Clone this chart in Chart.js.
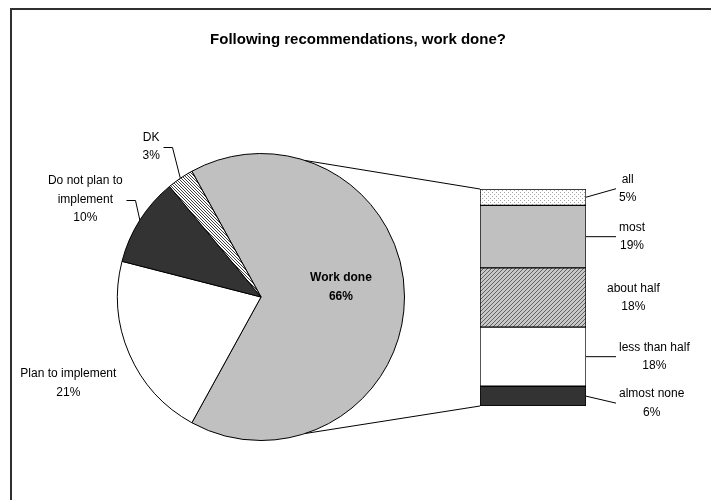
<!DOCTYPE html>
<html>
<head>
<meta charset="utf-8">
<script src="https://cdn.jsdelivr.net/npm/chart.js@4.4.1/dist/chart.umd.min.js"></script>
<style>
html, body { margin: 0; padding: 0; background: #fff; }
#wrap { position: relative; width: 711px; height: 500px; overflow: hidden; background: #fff; }
#frame { position: absolute; left: 10px; top: 8px; width: 760px; height: 560px; border-left: 2px solid #303030; border-top: 2px solid #303030; }
canvas { position: absolute; left: 0; top: 0; }
</style>
</head>
<body>
<div id="wrap">
  <div id="frame"></div>
  <canvas id="pie" width="711" height="500"></canvas>
  <canvas id="bar" width="711" height="500"></canvas>
</div>
<script>
// data
const chartTitle = "Following recommendations, work done?";
const pieLabels = [["Work done"], ["Plan to implement"], ["Do not plan to", "implement"], ["DK"]];
const pieValues = [66, 21, 10, 3];
// bar segments, bottom to top
const barLabels = [["almost none"], ["less than half"], ["about half"], ["most"], ["all"]];
const barValues = [6, 18, 18, 19, 5];

const FONT = '"Liberation Sans", Arial, sans-serif';
const LINE = 18.5;

function makePattern(bg, fg, size, px) {
    const c = document.createElement("canvas");
    c.width = size;
    c.height = size;
    const g = c.getContext("2d");
    g.fillStyle = bg;
    g.fillRect(0, 0, size, size);
    g.fillStyle = fg;
    px.forEach(p => g.fillRect(p[0], p[1], 1, 1));
    return g.createPattern(c, "repeat");
}
const hatchDown = makePattern("#ffffff", "#404040", 3, [[0, 0], [1, 1], [2, 2]]);
const hatchUp = makePattern("#c8c8c8", "#606060", 4, [[3, 0], [2, 1], [1, 2], [0, 3]]);
const dotted = makePattern("#ffffff", "#a8a8a8", 4, [[0, 0], [2, 2]]);

const pieFills = ["#c0c0c0", "#ffffff", "#333333", hatchDown];
const barFills = ["#333333", "#ffffff", hatchUp, "#c0c0c0", dotted];

// label placement: distance along the slice mid-angle (in radii) plus a nudge
const pieLabelLayout = [
    {dist: 0.557, dx: 0, dy: -10, bold: true, leader: false},
    {dist: 1.463, dx: 0, dy: 3, bold: false, leader: false},
    {dist: 1.45, dx: 0, dy: 14, bold: false, leader: true},
    {dist: 1.3, dx: -5, dy: 4, bold: false, leader: true}
];
const barLabelLayout = [
    {gap: 33, dy: 7, leader: true},
    {gap: 33, dy: 0, leader: true},
    {gap: 21, dy: 0, leader: false},
    {gap: 33, dy: 0, leader: true},
    {gap: 33, dy: -8.5, leader: true}
];

function drawBlock(ctx, lines, cx, cy) {
    const h = LINE * (lines.length - 1);
    lines.forEach((t, k) => ctx.fillText(t, cx, cy - h / 2 + k * LINE));
}

const titlePlugin = {
    id: "titleText",
    afterDraw(chart) {
        const ctx = chart.ctx;
        ctx.save();
        ctx.font = "bold 15px " + FONT;
        ctx.textAlign = "center";
        ctx.textBaseline = "middle";
        ctx.fillStyle = "#000";
        ctx.fillText(chartTitle, 358, 40);
        ctx.restore();
    }
};

const pieLabelPlugin = {
    id: "pieLabels",
    afterDatasetsDraw(chart) {
        const ctx = chart.ctx;
        const arcs = chart.getDatasetMeta(0).data;
        ctx.save();
        ctx.fillStyle = "#000";
        ctx.strokeStyle = "#000";
        ctx.lineWidth = 1;
        ctx.textAlign = "center";
        ctx.textBaseline = "middle";
        arcs.forEach((arc, i) => {
            const mid = (arc.startAngle + arc.endAngle) / 2;
            const r = arc.outerRadius;
            const lay = pieLabelLayout[i];
            const lines = pieLabels[i].concat([pieValues[i] + "%"]);
            ctx.font = (lay.bold ? "bold " : "") + "12px " + FONT;
            const lx = arc.x + Math.cos(mid) * r * lay.dist + lay.dx;
            const ly = arc.y + Math.sin(mid) * r * lay.dist + lay.dy;
            drawBlock(ctx, lines, lx, ly);
            if (lay.leader) {
                const w = Math.max(...lines.map(t => ctx.measureText(t).width));
                const sx = Math.round(lx + w / 2 + 3) + 0.5;
                const sy = Math.round(ly) + 0.5;
                ctx.beginPath();
                ctx.moveTo(sx, sy);
                ctx.lineTo(sx + 9, sy);
                ctx.lineTo(arc.x + Math.cos(mid) * r, arc.y + Math.sin(mid) * r);
                ctx.stroke();
            }
        });
        ctx.restore();
    }
};

const total = pieValues.reduce((a, b) => a + b, 0);

const pieChart = new Chart(document.getElementById("pie"), {
    type: "pie",
    data: {
        labels: pieLabels,
        datasets: [{
            data: pieValues,
            backgroundColor: pieFills,
            borderColor: "#000",
            borderWidth: 1,
            hoverOffset: 0
        }]
    },
    options: {
        responsive: false,
        animation: false,
        devicePixelRatio: 1,
        events: [],
        rotation: 90 - (pieValues[0] / total) * 180,
        layout: {padding: {left: 117, right: 306, top: 153, bottom: 59}},
        plugins: {
            legend: {display: false},
            tooltip: {enabled: false},
            title: {display: false}
        }
    },
    plugins: [pieLabelPlugin, titlePlugin]
});

const barPlugin = {
    id: "barExtras",
    beforeDatasetsDraw(chart) {
        // series lines from the pie to the bar
        const ctx = chart.ctx;
        const arc = pieChart.getDatasetMeta(0).data[0];
        const mid = (arc.startAngle + arc.endAngle) / 2;
        const spread = 72 * Math.PI / 180;
        const n = chart.data.datasets.length;
        const topBar = chart.getDatasetMeta(n - 1).data[0];
        const botBar = chart.getDatasetMeta(0).data[0];
        const left = topBar.x - topBar.width / 2;
        ctx.save();
        ctx.strokeStyle = "#000";
        ctx.lineWidth = 1;
        ctx.beginPath();
        ctx.moveTo(arc.x + Math.cos(mid - spread) * arc.outerRadius, arc.y + Math.sin(mid - spread) * arc.outerRadius);
        ctx.lineTo(left, topBar.y);
        ctx.moveTo(arc.x + Math.cos(mid + spread) * arc.outerRadius, arc.y + Math.sin(mid + spread) * arc.outerRadius);
        ctx.lineTo(left, botBar.base);
        ctx.stroke();
        ctx.restore();
    },
    afterDatasetsDraw(chart) {
        const ctx = chart.ctx;
        ctx.save();
        ctx.fillStyle = "#000";
        ctx.strokeStyle = "#000";
        ctx.lineWidth = 1;
        ctx.font = "12px " + FONT;
        ctx.textAlign = "center";
        ctx.textBaseline = "middle";
        chart.data.datasets.forEach((ds, i) => {
            const bar = chart.getDatasetMeta(i).data[0];
            const right = bar.x + bar.width / 2;
            const segMid = (bar.y + bar.base) / 2;
            const lay = barLabelLayout[i];
            const lines = barLabels[i].concat([barValues[i] + "%"]);
            const w = Math.max(...lines.map(t => ctx.measureText(t).width));
            const bx = right + lay.gap;
            const cy = segMid + lay.dy;
            drawBlock(ctx, lines, bx + w / 2, cy);
            if (lay.leader) {
                ctx.beginPath();
                ctx.moveTo(right, segMid);
                ctx.lineTo(bx - 3, cy);
                ctx.stroke();
            }
        });
        ctx.restore();
    }
};

new Chart(document.getElementById("bar"), {
    type: "bar",
    data: {
        labels: ["Work done"],
        datasets: barLabels.map((l, i) => ({
            label: l.join(" "),
            data: [barValues[i]],
            backgroundColor: barFills[i],
            borderColor: "#000",
            borderWidth: 1,
            borderSkipped: false,
            categoryPercentage: 1,
            barPercentage: 1
        }))
    },
    options: {
        responsive: false,
        animation: false,
        devicePixelRatio: 1,
        events: [],
        layout: {padding: {left: 480, right: 125, top: 189, bottom: 94}},
        scales: {
            x: {stacked: true, display: false},
            y: {stacked: true, display: false, min: 0, max: barValues.reduce((a, b) => a + b, 0)}
        },
        plugins: {
            legend: {display: false},
            tooltip: {enabled: false},
            title: {display: false}
        }
    },
    plugins: [barPlugin]
});
</script>
</body>
</html>
